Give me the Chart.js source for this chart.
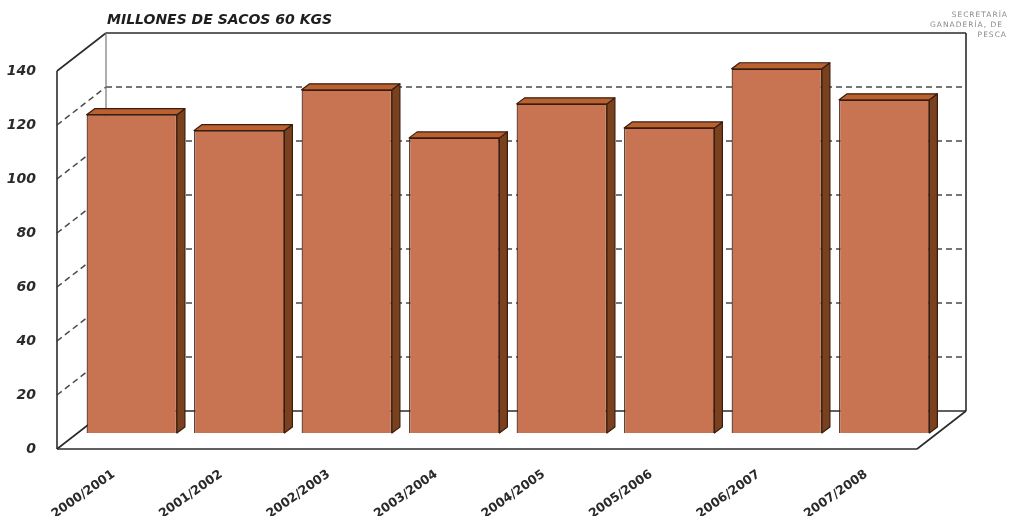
<!DOCTYPE html>
<html lang="es">
<head>
<meta charset="utf-8">
<title>Producción de café – millones de sacos</title>
<script src="https://cdn.jsdelivr.net/npm/chart.js@4.4.1/dist/chart.umd.min.js"></script>
<style>
  html, body { margin: 0; padding: 0; background: #fff; }
  #wrap { width: 1011px; height: 516px; position: relative; }
</style>
</head>
<body>
<div id="wrap"><canvas id="cafeChart"></canvas></div>
<script>
(function() {
    'use strict';

    // Temporadas y producción (millones de sacos de 60 kg)
    const temporadas = ['2000/2001', '2001/2002', '2002/2003', '2003/2004',
                        '2004/2005', '2005/2006', '2006/2007', '2007/2008'];
    const produccion = [117.9, 112.0, 127.1, 109.3, 121.9, 113.0, 134.9, 123.4];
    const marcasY = [0, 20, 40, 60, 80, 100, 120, 140];

    const titulo = 'MILLONES DE SACOS 60 KGS';
    const fuente = ['SECRETARÍA', 'GANADERÍA, DE', 'PESCA'];

    // Desplazamientos de la caja en perspectiva respecto al plano de las barras
    const FRENTE = { dx: -21, dy: 16 };
    const FONDO = { dx: 28, dy: -22 };
    const PROF_BARRA = { dx: 8, dy: -6 };

    const COLOR_LINEA = '#2b2b2b';
    const COLOR_FRENTE = '#C87453';
    const COLOR_LADO = '#7A411F';
    const COLOR_TAPA = '#B9622F';
    const COLOR_BORDE = '#3a1b0c';

    function linea(ctx, x1, y1, x2, y2) {
        ctx.beginPath();
        ctx.moveTo(x1, y1);
        ctx.lineTo(x2, y2);
        ctx.stroke();
    }

    // Paredes, piso y líneas de cuadrícula de la caja 3D
    const caja3d = {
        id: 'caja3d',
        beforeDatasetsDraw(chart) {
            const { ctx, chartArea: a, scales: { y } } = chart;
            const vMin = marcasY[0];
            const vMax = marcasY[marcasY.length - 1];
            const y0 = y.getPixelForValue(vMin);
            const yT = y.getPixelForValue(vMax);
            const fx = a.left + FRENTE.dx;
            const frx = a.right + FRENTE.dx;
            const bx = a.left + FONDO.dx;
            const brx = a.right + FONDO.dx;

            ctx.save();
            // cuadrícula punteada
            ctx.strokeStyle = '#4a4a4a';
            ctx.lineWidth = 1.5;
            ctx.setLineDash([6, 4]);
            marcasY.slice(1, -1).forEach(function(v) {
                const py = y.getPixelForValue(v);
                linea(ctx, fx, py + FRENTE.dy, bx, py + FONDO.dy);
                linea(ctx, bx, py + FONDO.dy, brx, py + FONDO.dy);
            });
            ctx.setLineDash([]);

            ctx.strokeStyle = COLOR_LINEA;
            ctx.lineWidth = 1.6;
            // pared izquierda
            linea(ctx, fx, y0 + FRENTE.dy, fx, yT + FRENTE.dy);
            linea(ctx, fx, yT + FRENTE.dy, bx, yT + FONDO.dy);
            linea(ctx, fx, y0 + FRENTE.dy, bx, y0 + FONDO.dy);
            // pared del fondo
            linea(ctx, bx, yT + FONDO.dy, brx, yT + FONDO.dy);
            linea(ctx, brx, yT + FONDO.dy, brx, y0 + FONDO.dy);
            linea(ctx, bx, y0 + FONDO.dy, brx, y0 + FONDO.dy);
            ctx.strokeStyle = '#777';
            ctx.lineWidth = 1.2;
            linea(ctx, bx, yT + FONDO.dy, bx, y0 + FONDO.dy);
            // piso
            ctx.strokeStyle = COLOR_LINEA;
            ctx.lineWidth = 1.6;
            linea(ctx, fx, y0 + FRENTE.dy, frx, y0 + FRENTE.dy);
            linea(ctx, frx, y0 + FRENTE.dy, brx, y0 + FONDO.dy);
            ctx.restore();
        },
        afterDatasetsDraw(chart) {
            const { ctx } = chart;
            const meta = chart.getDatasetMeta(0);
            ctx.save();
            ctx.strokeStyle = COLOR_BORDE;
            ctx.lineWidth = 1.2;
            ctx.lineJoin = 'round';
            meta.data.forEach(function(barra) {
                const p = barra.getProps(['x', 'y', 'base', 'width'], true);
                const izq = p.x - p.width / 2;
                const der = p.x + p.width / 2;
                const dx = PROF_BARRA.dx;
                const dy = PROF_BARRA.dy;

                // cara lateral
                ctx.fillStyle = COLOR_LADO;
                ctx.beginPath();
                ctx.moveTo(der, p.y);
                ctx.lineTo(der + dx, p.y + dy);
                ctx.lineTo(der + dx, p.base + dy);
                ctx.lineTo(der, p.base);
                ctx.closePath();
                ctx.fill();
                ctx.stroke();

                // cara superior
                ctx.fillStyle = COLOR_TAPA;
                ctx.beginPath();
                ctx.moveTo(izq, p.y);
                ctx.lineTo(izq + dx, p.y + dy);
                ctx.lineTo(der + dx, p.y + dy);
                ctx.lineTo(der, p.y);
                ctx.closePath();
                ctx.fill();
                ctx.stroke();
            });
            ctx.restore();
        },
        afterDraw(chart) {
            const { ctx } = chart;
            ctx.save();
            ctx.fillStyle = '#1e1e1e';
            ctx.font = 'italic bold 14px "DejaVu Sans"';
            ctx.textBaseline = 'middle';
            ctx.textAlign = 'left';
            ctx.fillText(titulo, 107, 20);

            ctx.fillStyle = '#8a8a8a';
            ctx.font = '7.5px "DejaVu Sans"';
            ctx.letterSpacing = '1px';
            ctx.textAlign = 'right';
            ctx.fillText(fuente[0], 1008, 15);
            ctx.textAlign = 'left';
            ctx.fillText(fuente[1], 930, 25);
            ctx.textAlign = 'right';
            ctx.fillText(fuente[2], 1007, 35);
            ctx.restore();
        }
    };

    const ctx = document.getElementById('cafeChart');
    new Chart(ctx, {
        type: 'bar',
        data: {
            labels: temporadas,
            datasets: [{
                label: 'Millones de sacos',
                data: produccion,
                backgroundColor: COLOR_FRENTE,
                borderColor: COLOR_BORDE,
                borderWidth: 1.2,
                barPercentage: 0.84,
                categoryPercentage: 1.0
            }]
        },
        options: {
            responsive: true,
            maintainAspectRatio: false,
            animation: false,
            layout: {
                padding: { top: 55, right: 73, bottom: 0, left: 0 }
            },
            plugins: {
                legend: { display: false },
                tooltip: { enabled: false }
            },
            scales: {
                x: {
                    afterFit: function(scale) { scale.height = 83; },
                    grid: { display: false, drawTicks: false },
                    border: { display: false },
                    ticks: {
                        minRotation: 35,
                        maxRotation: 35,
                        padding: 34,
                        labelOffset: -18,
                        color: '#2a2a2a',
                        font: { family: 'DejaVu Sans', size: 12.5, weight: 'bold' }
                    }
                },
                y: {
                    min: 0,
                    max: 140,
                    afterFit: function(scale) { scale.width = 78; },
                    afterBuildTicks: function(scale) {
                        scale.ticks = marcasY.map(function(v) { return { value: v }; });
                    },
                    grid: { display: false, drawTicks: false },
                    border: { display: false },
                    ticks: {
                        padding: 42,
                        labelOffset: 16,
                        color: '#2a2a2a',
                        font: { family: 'DejaVu Sans', size: 14, weight: 'bold', style: 'italic' }
                    }
                }
            }
        },
        plugins: [caja3d]
    });
})();
</script>
</body>
</html>
